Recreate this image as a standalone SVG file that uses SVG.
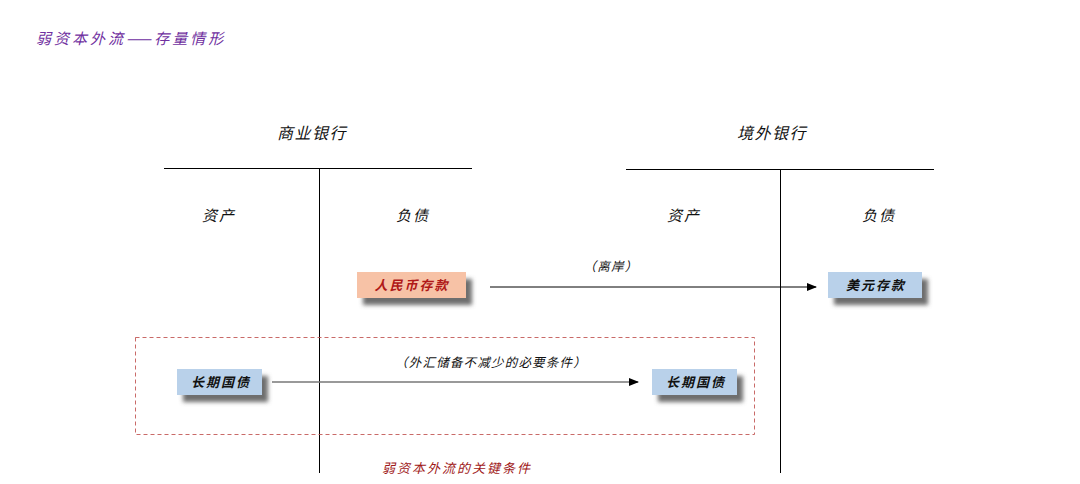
<svg xmlns="http://www.w3.org/2000/svg" width="1080" height="484" viewBox="0 0 1080 484">
<style>
text{font-family:"Noto Sans CJK SC","Noto Sans CJK JP",sans-serif;font-style:italic;font-weight:400}
.hd{font-size:16px;fill:#111;letter-spacing:1.5px}
.sub{font-size:15px;fill:#111;letter-spacing:2px}
.lbl{font-size:12.5px;fill:#111;letter-spacing:1.2px}
.bx{font-size:13px;letter-spacing:2px;font-weight:700}
.ln{stroke:#000;stroke-width:1;fill:none}
.blue{fill:#B9D1EA}
.peach{fill:#F7C2A6}
.sh{fill:#6e6e6e;filter:url(#blur)}
</style>
<defs>
<filter id="blur" x="-20%" y="-50%" width="140%" height="200%"><feGaussianBlur stdDeviation="2.2"/></filter>
<marker id="ah" markerWidth="10" markerHeight="8" refX="9" refY="4" orient="auto" markerUnits="userSpaceOnUse"><path d="M0,0 L10,4 L0,8 z" fill="#000"/></marker>
</defs>
<rect width="1080" height="484" fill="#fff"/>
<text x="36" y="44" style="font-size:15px;fill:#7030A0;letter-spacing:3px">弱资本外流——存量情形</text>
<g id="bank-cn">
<text class="hd" x="312" y="139" text-anchor="middle">商业银行</text>
<line class="ln" x1="164" y1="168.5" x2="472" y2="168.5"/>
<line class="ln" x1="319.5" y1="168" x2="319.5" y2="473"/>
<text class="sub" x="219" y="221" text-anchor="middle">资产</text>
<text class="sub" x="413" y="221" text-anchor="middle">负债</text>
</g>
<g id="bank-off">
<text class="hd" x="772" y="139" text-anchor="middle">境外银行</text>
<line class="ln" x1="626" y1="169.5" x2="934" y2="169.5"/>
<line class="ln" x1="780.5" y1="169" x2="780.5" y2="473"/>
<text class="sub" x="684" y="221" text-anchor="middle">资产</text>
<text class="sub" x="879" y="221" text-anchor="middle">负债</text>
</g>
<g id="key-condition">
<rect x="135.5" y="337.5" width="619" height="97" fill="none" stroke="#C0504D" stroke-width="1" stroke-dasharray="4,3" opacity="0.85"/>
<text x="457" y="473" text-anchor="middle" style="font-size:13px;fill:#A01818;letter-spacing:2px">弱资本外流的关键条件</text>
</g>
<g id="connectors">
<line x1="490" y1="287" x2="816" y2="287" stroke="#000" stroke-width="1" marker-end="url(#ah)"/>
<text class="lbl" x="611" y="271" text-anchor="middle">（离岸）</text>
<line x1="272" y1="382" x2="638" y2="382" stroke="#777" stroke-width="1.5" marker-end="url(#ah)"/>
<text class="lbl" x="491" y="367" text-anchor="middle">（外汇储备不减少的必要条件）</text>
</g>
<g id="rmb-deposit">
<rect class="sh" x="363" y="279" width="109" height="26"/>
<rect class="peach" x="357" y="272" width="109" height="26"/>
<text class="bx" x="412" y="290" text-anchor="middle" fill="#B01818">人民币存款</text>
</g>
<g id="usd-deposit">
<rect class="sh" x="834" y="279" width="94" height="26"/>
<rect class="blue" x="828" y="272" width="94" height="26"/>
<text class="bx" x="876" y="290" text-anchor="middle" fill="#111">美元存款</text>
</g>
<g id="bond-left">
<rect class="sh" x="183" y="376" width="85" height="26"/>
<rect class="blue" x="177" y="369" width="85" height="26"/>
<text class="bx" x="221" y="387" text-anchor="middle" fill="#111">长期国债</text>
</g>
<g id="bond-right">
<rect class="sh" x="658" y="376" width="85" height="26"/>
<rect class="blue" x="652" y="369" width="85" height="26"/>
<text class="bx" x="696" y="387" text-anchor="middle" fill="#111">长期国债</text>
</g>
</svg>
